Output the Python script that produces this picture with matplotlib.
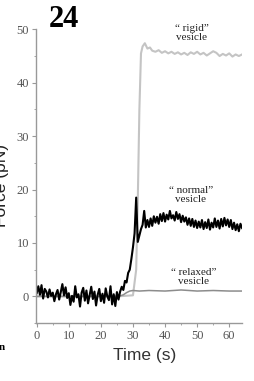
import numpy as np
import matplotlib
matplotlib.use("Agg")
import matplotlib.pyplot as plt
from matplotlib.ticker import MultipleLocator

# "normal" vesicle trace, sampled every 0.5 s from 0 to 64 s
t_normal = np.arange(0, 64.5, 0.5)
f_normal = [
    0.6, 1.9, 0.3, 2.1, -0.4, 1.4, 0.9, -0.2, 1.3, 0.1,
    0.7, -0.9, 0.4, 1.2, -0.6, 0.8, 2.3, 0.2, 1.7, -0.3,
    0.6, -1.6, 0.1, -1.0, 1.9, -0.2, 0.4, -1.9, 0.7, 1.6,
    -0.8, 1.1, -1.3, 0.2, 1.8, -0.5, 0.9, -1.7, 0.3, 1.4,
    -0.9, 0.5, -1.2, 1.5, 0.0, -0.7, 1.9, -1.5, 0.4, -1.8,
    0.8, -0.6, 0.9, 1.8, 1.2, 2.9, 2.6, 4.4, 5.0, 7.0,
    9.2, 11.8, 18.5, 10.2, 11.4, 12.6, 13.4, 16.0, 12.9, 14.3,
    13.0, 14.6, 13.2, 15.0, 13.8, 14.9, 13.6, 15.4, 14.1, 15.6,
    14.0, 15.3, 14.4, 16.0, 14.6, 15.2, 14.2, 15.8, 14.5, 15.4,
    13.9, 15.1, 14.0, 14.8, 13.4, 14.6, 13.2, 14.5, 13.0, 14.2,
    12.8, 14.0, 12.9, 14.3, 12.6, 13.9, 12.8, 14.4, 12.5, 13.8,
    12.9, 14.6, 13.0, 14.2, 12.7, 14.5, 13.1, 14.7, 13.3, 14.4,
    13.0, 14.3, 12.6, 13.8, 12.4, 13.5, 12.2, 13.6, 12.8,
]

# "rigid" vesicle trace
t_rigid = [0, 10, 20, 25, 30, 31, 31.5, 32, 32.5, 33, 33.7, 34.5, 35.3, 36,
           37, 38, 39, 40, 41, 42, 43, 44, 45, 46, 47, 48, 49, 50,
           51, 52, 53, 54, 55, 56, 57, 58, 59, 60, 61, 62, 63, 64]
f_rigid = [0, 0, 0, 0, 0.2, 5, 18, 35, 45.5, 46.8, 47.4, 46.4, 46.6, 46.0,
           45.8, 46.1, 45.6, 45.9, 45.5, 45.8, 45.4, 45.7, 45.3, 45.6, 45.2, 45.7, 45.4, 45.8,
           45.3, 45.6, 45.1, 45.5, 45.9, 45.6, 45.0, 45.4, 45.1, 45.5, 44.9, 45.3, 45.0, 45.3]

# "relaxed" vesicle trace
t_relaxed = [0, 5, 10, 15, 20, 25, 26, 27, 28, 29, 30, 32, 35, 40, 45, 50, 55, 60, 64]
f_relaxed = [0, 0, 0, 0, 0, 0, 0.1, 0.3, 0.7, 1.0, 1.1, 1.0, 1.1, 1.0, 1.2, 1.0, 1.1, 1.0, 1.0]

fig = plt.figure(figsize=(2.54, 3.81), dpi=100)
ax = fig.add_axes([0.142, 0.152, 0.811, 0.771])

ax.plot(t_rigid, f_rigid, color="#c4c4c4", lw=1.5)
ax.plot(t_relaxed, f_relaxed, color="#8c8c8c", lw=1.1)
ax.plot(t_normal, f_normal, color="black", lw=1.5)

ax.set_xlim(-0.2, 64)
ax.set_ylim(-5, 50)
ax.xaxis.set_major_locator(MultipleLocator(10))
ax.xaxis.set_minor_locator(MultipleLocator(5))
ax.yaxis.set_major_locator(MultipleLocator(10))
ax.yaxis.set_minor_locator(MultipleLocator(5))

for s in ["top", "right"]:
    ax.spines[s].set_visible(False)
for s in ["left", "bottom"]:
    ax.spines[s].set_color("#999999")
    ax.spines[s].set_linewidth(1.0)
ax.tick_params(which="major", length=3, width=0.8, color="#999999",
               labelsize=9, labelcolor="#555555", pad=2)
ax.tick_params(which="minor", length=1.5, width=0.6, color="#999999")
for lab in ax.get_xticklabels() + ax.get_yticklabels():
    lab.set_family("Liberation Serif")

ann = dict(ha="center", va="center", fontsize=8, family="Liberation Serif",
           linespacing=1.0, color="#222222", clip_on=False)
ax.text(48.3, 49.3, "\u201c rigid\u201d\nvesicle", **ann)
ax.text(48.0, 18.9, "\u201c normal\u201d\nvesicle", **ann)
ax.text(49.0, 3.6, "\u201c relaxed\u201d\nvesicle", **ann)

fig.text(0.571, 0.068, "Time (s)", ha="center", va="center", fontsize=12.5,
         family="Liberation Sans", color="#333333")
fig.text(0.036, 0.514, "Force (pN)", ha="right", va="center", rotation=90,
         fontsize=12.5, family="Liberation Sans", color="#222222")
fig.text(0.25, 0.948, "24", ha="center", va="center", fontsize=22,
         fontweight="bold", family="Liberation Serif")
fig.text(-0.004, 0.088, "n", ha="left", va="center", fontsize=8,
         fontweight="bold", family="Liberation Serif")

fig.savefig("out.png", dpi=100)
